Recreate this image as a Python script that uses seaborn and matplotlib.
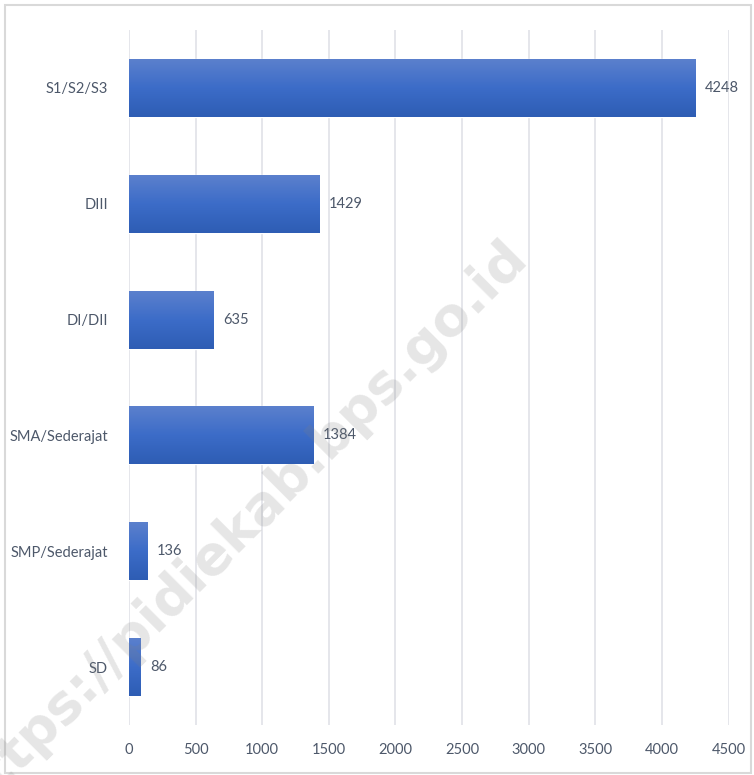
import numpy as np
import pandas as pd
import matplotlib
matplotlib.use("Agg")
import matplotlib.pyplot as plt
from matplotlib.colors import LinearSegmentedColormap
from matplotlib.patches import Rectangle
import seaborn as sns

# data
categories = ["S1/S2/S3", "DIII", "DI/DII", "SMA/Sederajat", "SMP/Sederajat", "SD"]
values = [4248, 1429, 635, 1384, 136, 86]
x_ticks = [0, 500, 1000, 1500, 2000, 2500, 3000, 3500, 4000, 4500]

df = pd.DataFrame({"Pendidikan": categories, "Jumlah": values})

sns.set_style("white")
plt.rcParams['font.family'] = ['Lato', 'DejaVu Sans']
text_color = "#4d586a"

fig = plt.figure(figsize=(7.54, 7.75), dpi=100)
ax = fig.add_axes([0.1711, 0.0645, 0.7952, 0.8968])

sns.barplot(data=df, x="Jumlah", y="Pendidikan", orient="h", color="#3a6bc8",
            width=0.5, ax=ax, zorder=3)

# gradient fill for each bar (lighter top, darker bottom)
grad = LinearSegmentedColormap.from_list("g", ["#5b80cd", "#3c6cc8", "#2e5db4"])
for p in ax.patches:
    x0, y0 = p.get_x(), p.get_y()
    w, h = p.get_width(), p.get_height()
    img = ax.imshow(np.linspace(0, 1, 100).reshape(-1, 1), cmap=grad, aspect="auto",
                    extent=[x0, x0 + w, y0 + h, y0], origin="upper", zorder=4)
    img.set_clip_path(p)

for i, v in enumerate(values):
    ax.text(v + 70, i, str(v), va="center", ha="left", fontsize=10.5, color=text_color, zorder=5)

ax.set_xlim(0, 4500)
ax.set_ylim(5.5, -0.5)
ax.set_xticks(x_ticks)
ax.set_xticklabels([str(t) for t in x_ticks])
ax.xaxis.grid(True, color="#e0e1e8", linewidth=1.2, zorder=0)
ax.set_axisbelow(True)
ax.tick_params(axis="both", length=0, labelsize=10.5, labelcolor=text_color)
ax.tick_params(axis="x", pad=13)
ax.tick_params(axis="y", pad=15)
ax.set_xlabel("")
ax.set_ylabel("")
for s in ax.spines.values():
    s.set_visible(False)

# chart border
fig.patches.append(Rectangle((0.006, 0.003), 0.99, 0.99, transform=fig.transFigure,
                             fill=False, edgecolor="#d9d9d9", linewidth=1.5))

# watermark (cut off at the bottom-left corner, as in the source image)
fig.text(0.318, 0.320, "https://pidiekab.bps.go.id", rotation=45, ha="center", va="center",
         fontsize=39, fontweight="bold", color="#808080", alpha=0.2,
         family=['DejaVu Sans'], zorder=10)

fig.savefig("out.png", dpi=100)
